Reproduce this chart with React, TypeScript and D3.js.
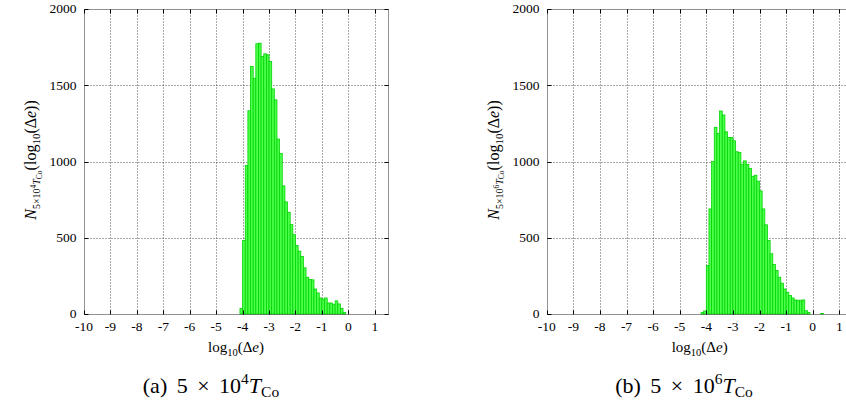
import React from "react";
import * as d3 from "d3";

// ---- data ----
const xTicks = [-10, -9, -8, -7, -6, -5, -4, -3, -2, -1, 0, 1];
const yTicks = [0, 500, 1000, 1500, 2000];
const binWidth = 0.1;

const binsA = [
  -4.1, -4.0, -3.9, -3.8, -3.7, -3.6, -3.5, -3.4, -3.3, -3.2,
  -3.1, -3.0, -2.9, -2.8, -2.7, -2.6, -2.5, -2.4, -2.3, -2.2,
  -2.1, -2.0, -1.9, -1.8, -1.7, -1.6, -1.5, -1.4, -1.3, -1.2,
  -1.1, -1.0, -0.9, -0.8, -0.7, -0.6, -0.5, -0.4, -0.3, -0.2,
];
const countsA = [
  37, 482, 974, 1333, 1623, 1546, 1772, 1776, 1689, 1706,
  1700, 1656, 1476, 1404, 1147, 1053, 840, 735, 667, 586,
  520, 450, 412, 377, 303, 241, 226, 224, 164, 138,
  105, 98, 105, 72, 72, 64, 86, 66, 37, 11,
];

const binsB = [
  -4.2, -4.1, -4.0, -3.9, -3.8, -3.7, -3.6, -3.5, -3.4, -3.3,
  -3.2, -3.1, -3.0, -2.9, -2.8, -2.7, -2.6, -2.5, -2.4, -2.3,
  -2.2, -2.1, -2.0, -1.9, -1.8, -1.7, -1.6, -1.5, -1.4, -1.3,
  -1.2, -1.1, -1.0, -0.9, -0.8, -0.7, -0.6, -0.5, -0.4, -0.3,
  -0.2, 0.3,
];
const countsB = [
  9, 20, 318, 689, 1000, 1224, 1184, 1331, 1305, 1195,
  1158, 1158, 1136, 1064, 1059, 982, 1004, 980, 954, 903,
  910, 871, 807, 689, 585, 482, 395, 325, 285, 241,
  202, 164, 143, 121, 105, 92, 90, 90, 92, 22,
  9, 3,
];

const FONT = "'Liberation Serif', 'DejaVu Serif', serif";

type PanelProps = {
  x0: number;
  x1: number;
  bins: number[];
  counts: number[];
  exp: string;
  label: string;
  capX: number;
};

function Panel({ x0, x1, bins, counts, exp, label, capX }: PanelProps) {
  const x = d3.scaleLinear().domain([-10, 1.5]).range([x0, x1]);
  const y = d3.scaleLinear().domain([0, 2000]).range([314, 9]);
  const px = (v: number) => Math.round(x(v)) + 0.5;
  const py = (v: number) => Math.round(y(v)) + 0.5;
  const left = px(-10);
  const right = px(1.5);
  const top = py(2000);
  const bottom = py(0);
  const cx = (x(-10) + x(1.5)) / 2;
  const tl = 4;
  return (
    <g>
      {/* grid */}
      {xTicks.filter((t) => t > -10).map((t) => (
        <line key={"gx" + t} x1={px(t)} x2={px(t)} y1={top} y2={bottom}
          stroke="#555" strokeWidth={1} strokeDasharray="1 2" />
      ))}
      {yTicks.filter((t) => t > 0 && t < 2000).map((t) => (
        <line key={"gy" + t} x1={left} x2={right} y1={py(t)} y2={py(t)}
          stroke="#555" strokeWidth={1} strokeDasharray="1 2" />
      ))}
      {/* bars */}
      {bins.map((b, i) => (
        <rect key={"b" + i}
          x={x(b)} width={x(b + binWidth) - x(b)}
          y={y(counts[i])} height={y(0) - y(counts[i])}
          fill="#4cff4c" stroke="#00d400" strokeWidth={0.8} />
      ))}
      {/* border */}
      <path d={`M${left},${top}H${right}V${bottom}H${left}Z`} fill="none"
        stroke="#222" strokeWidth={1} strokeDasharray="1 1" />
      {/* ticks */}
      {xTicks.map((t) => (
        <g key={"tx" + t}>
          <line x1={px(t)} x2={px(t)} y1={bottom} y2={bottom - tl} stroke="#000" />
          <line x1={px(t)} x2={px(t)} y1={top} y2={top + tl} stroke="#000" />
          <text x={x(t)} y={331} textAnchor="middle" fontSize={13.5} fontFamily={FONT}>{t}</text>
        </g>
      ))}
      {yTicks.map((t) => (
        <g key={"ty" + t}>
          <line x1={left} x2={left + tl} y1={py(t)} y2={py(t)} stroke="#000" />
          <line x1={right} x2={right - tl} y1={py(t)} y2={py(t)} stroke="#000" />
          <text x={left - 8} y={y(t)} dy="0.33em" textAnchor="end" fontSize={13.5} fontFamily={FONT}>{t}</text>
        </g>
      ))}
      {/* x title */}
      <text x={cx} y={352} textAnchor="middle" fontSize={15} fontFamily={FONT}>
        log<tspan fontSize={10.5} dy={4}>10</tspan><tspan dy={-4}>(Δ</tspan><tspan fontStyle="italic">e</tspan>)
      </text>
      {/* y title */}
      <text transform={`translate(${x0 - 48},160) rotate(-90)`} textAnchor="middle" fontSize={16} fontFamily={FONT}>
        <tspan fontStyle="italic">N</tspan>
        <tspan fontSize={10} dy={4}>5×10</tspan>
        <tspan fontSize={7.5} dy={-4}>{exp}</tspan>
        <tspan fontSize={10} fontStyle="italic" dy={4}>T</tspan>
        <tspan fontSize={7.5} dy={1.5}>Co</tspan>
        <tspan dy={-5.5}>(log</tspan>
        <tspan fontSize={11} dy={4}>10</tspan>
        <tspan dy={-4}>(Δ</tspan>
        <tspan fontStyle="italic">e</tspan>
        <tspan>))</tspan>
      </text>
      {/* caption */}
      <text x={capX} y={393} textAnchor="middle" fontSize={22} wordSpacing={4} fontFamily={FONT}>
        ({label}) 5 × 10<tspan fontSize={15.5} dy={-9}>{exp}</tspan><tspan fontStyle="italic" dy={9}>T</tspan><tspan fontSize={15.5} dy={4}>Co</tspan>
      </text>
    </g>
  );
}

export default function App() {
  return (
    <svg width={846} height={406} style={{ position: "absolute", left: 0, top: 0, background: "#fff" }}>
      <rect width={846} height={406} fill="#fff" />
      <Panel x0={84} x1={388} bins={binsA} counts={countsA} exp="4" label="a" capX={211} />
      <Panel x0={546.7} x1={852.6} bins={binsB} counts={countsB} exp="6" label="b" capX={684} />
    </svg>
  );
}
